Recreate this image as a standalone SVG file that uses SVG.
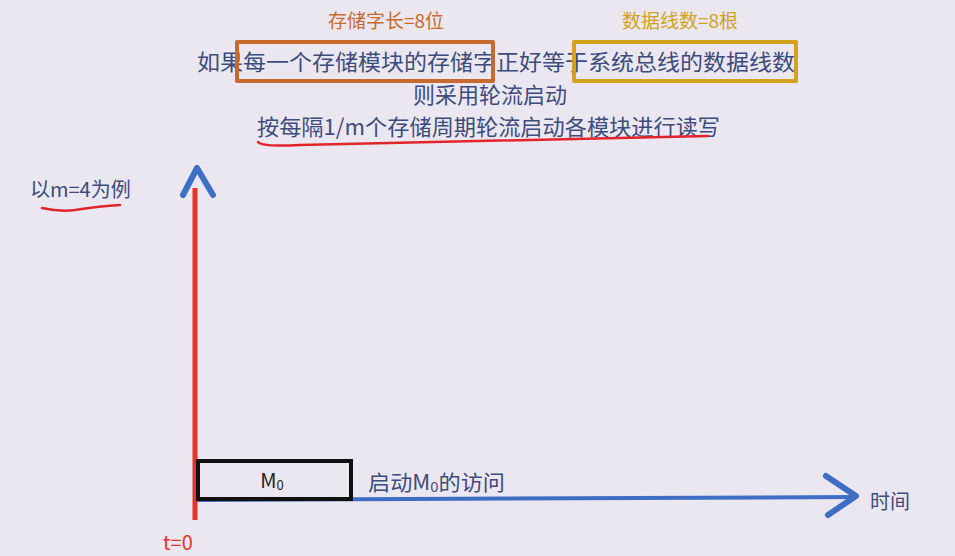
<svg xmlns="http://www.w3.org/2000/svg" width="955" height="556" viewBox="0 0 955 556">
<style>
.t{font-family:"Noto Sans CJK SC","Noto Sans",sans-serif;fill:#3d4c7c;}
.or{fill:#c8692e;}
.gd{fill:#d2a21c;}
.red{fill:#e8322a;}
.hl{fill:none;stroke-width:4;stroke-linejoin:round;}
</style>
<rect width="955" height="556" fill="#ebe7f0"/>
<g id="labels">
<text class="t or" x="386" y="28" font-size="19" text-anchor="middle">存储字长=8位</text>
<text class="t gd" x="680" y="28" font-size="19" text-anchor="middle">数据线数=8根</text>
<text class="t" x="197" y="70" font-size="22" textLength="598" lengthAdjust="spacingAndGlyphs">如果每一个存储模块的存储字正好等于系统总线的数据线数</text>
<text class="t" x="490" y="103" font-size="22" text-anchor="middle">则采用轮流启动</text>
<text class="t" x="257" y="135" font-size="22" textLength="463" lengthAdjust="spacingAndGlyphs">按每隔1/m个存储周期轮流启动各模块进行读写</text>
<text class="t" x="30" y="197" font-size="20">以m=4为例</text>
<text class="t" x="368" y="490" font-size="21" textLength="137" lengthAdjust="spacingAndGlyphs">启动M<tspan font-size="14" dy="2">0</tspan><tspan dy="-2">的访问</tspan></text>
<text class="t" x="870" y="509" font-size="20">时间</text>
<text class="t red" x="163" y="550" font-size="20">t=0</text>
</g>
<g id="highlights">
<rect id="box-wordlen" class="hl" x="237" y="42" width="256" height="39" stroke="#c8692e"/>
<rect id="box-datalines" class="hl" x="574" y="42" width="222" height="39" stroke="#d2a21c"/>
<path d="M258 142 Q262 147 300 145 Q500 140 708 136" fill="none" stroke="#e0262a" stroke-width="2.5" stroke-linecap="round"/>
<path d="M42 208 Q60 212 75 210 Q100 206 120 205" fill="none" stroke="#e0262a" stroke-width="2.5" stroke-linecap="round"/>
</g>
<g id="connectors">
<line x1="196" y1="500" x2="855" y2="497" stroke="#3f6fc4" stroke-width="4" stroke-linecap="round"/>
<polyline points="826,476 856,496 828,515" fill="none" stroke="#3f6fc4" stroke-width="6" stroke-linecap="round" stroke-linejoin="round"/>
<line x1="195" y1="188" x2="195" y2="520" stroke="#e8322a" stroke-width="5"/>
<polyline points="183,195 197,168 213,195" fill="none" stroke="#3f6fc4" stroke-width="6" stroke-linecap="round" stroke-linejoin="round"/>
</g>
<g id="node-m0">
<rect x="198" y="461" width="153" height="38" fill="none" stroke="#111" stroke-width="4"/>
<text class="t" x="272" y="488" font-size="20" text-anchor="middle" style="fill:#222">M<tspan font-size="13" dy="2">0</tspan></text>
</g>
</svg>
